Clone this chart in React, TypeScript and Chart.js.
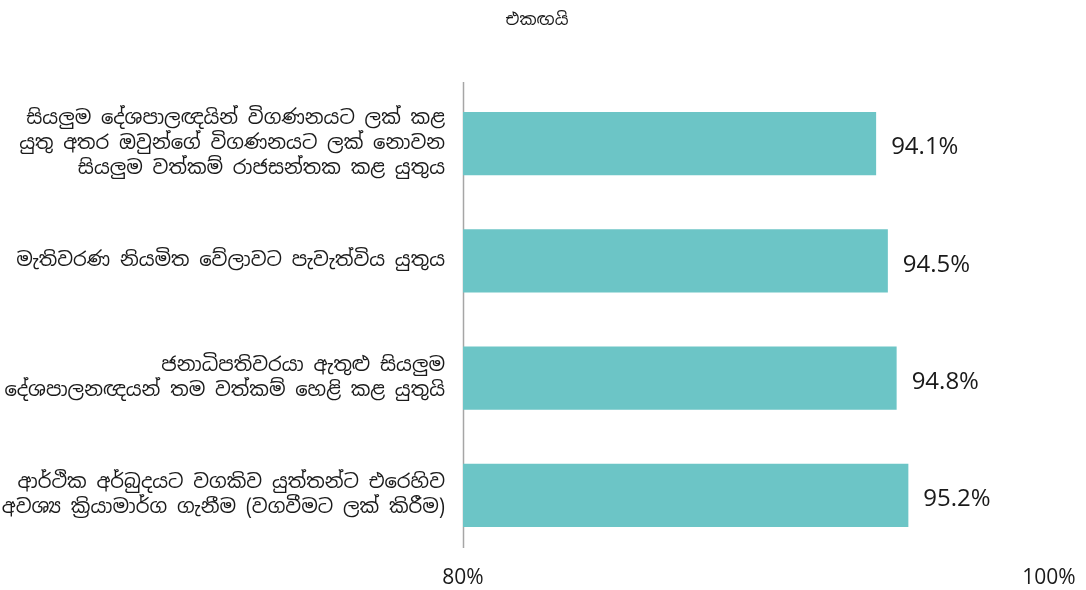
import React, { useEffect, useRef } from "react";
import { Chart, registerables } from "chart.js";

Chart.register(...registerables);

const titleText = "එකඟයි";
const categories: string[][] = [
  ["සියලුම දේශපාලඥයින් විගණනයට ලක් කළ", "යුතු අතර ඔවුන්ගේ විගණනයට ලක් නොවන", "සියලුම වත්කම් රාජසන්තක කළ යුතුය"],
  ["මැතිවරණ නියමිත වේලාවට පැවැත්විය යුතුය"],
  ["ජනාධිපතිවරයා ඇතුළු සියලුම", "දේශපාලනඥයන් තම වත්කම් හෙළි කළ යුතුයි"],
  ["ආර්ථික අර්බුදයට වගකිව යුත්තන්ට එරෙහිව", "අවශ්‍ය ක්‍රියාමාර්ග ගැනීම (වගවීමට ලක් කිරීම)"],
];
const values: number[] = [94.1, 94.5, 94.8, 95.2];
const axisMin = 80;
const axisMax = 100;

const FONT = "'Noto Sans Sinhala', 'Iskoola Pota', 'Noto Sans', 'Open Sans', sans-serif";

export default function App() {
  const ref = useRef<HTMLCanvasElement | null>(null);
  useEffect(() => {
    if (!ref.current) return;
    const valuePlugin = {
      id: "valueLabels",
      afterDatasetsDraw(chart: any) {
        const ctx = chart.ctx;
        const meta = chart.getDatasetMeta(0);
        ctx.save();
        ctx.font = "24px 'Open Sans', 'Noto Sans', sans-serif";
        ctx.fillStyle = "#1a1a1a";
        ctx.textAlign = "left";
        ctx.textBaseline = "middle";
        meta.data.forEach((el: any, i: number) => {
          ctx.fillText(values[i].toFixed(1) + "%", el.x + 15, el.y + 4);
        });
        ctx.restore();
      },
    };
    const axisLinePlugin = {
      id: "axisLine",
      beforeDatasetsDraw(chart: any) {
        const ctx = chart.ctx;
        const x = Math.round(chart.scales.x.getPixelForValue(axisMin)) + 0.5;
        ctx.save();
        ctx.strokeStyle = "#a6a6a6";
        ctx.lineWidth = 1.5;
        ctx.beginPath();
        ctx.moveTo(x, chart.chartArea.top - 3);
        ctx.lineTo(x, chart.chartArea.bottom - 6);
        ctx.stroke();
        ctx.restore();
      },
    };
    const titlePlugin = {
      id: "topTitle",
      afterDraw(chart: any) {
        const ctx = chart.ctx;
        ctx.save();
        ctx.font = "17px " + FONT;
        ctx.fillStyle = "#1a1a1a";
        ctx.textAlign = "center";
        ctx.textBaseline = "middle";
        ctx.fillText(titleText, 537, 20);
        ctx.restore();
      },
    };
    const chart = new Chart(ref.current, {
      type: "bar",
      data: {
        labels: categories,
        datasets: [
          {
            data: values,
            backgroundColor: "#6CC5C6",
            borderWidth: 0,
            barPercentage: 0.54,
            categoryPercentage: 1,
          },
        ],
      },
      options: {
        indexAxis: "y",
        animation: false,
        responsive: false,
        maintainAspectRatio: false,
        layout: { padding: { top: 85, right: 37, bottom: 0, left: 0 } },
        plugins: {
          legend: { display: false },
          title: { display: false },
          tooltip: { enabled: false },
        },
        scales: {
          x: {
            min: axisMin,
            max: axisMax,
            grid: { display: false, drawTicks: false },
            border: { display: false },
            ticks: {
              stepSize: 20,
              callback: (v: any) => v + "%",
              color: "#1a1a1a",
              font: { size: 21, family: "'Open Sans', 'Noto Sans', sans-serif" },
              padding: 11,
              maxRotation: 0,
            },
            afterFit(scale: any) {
              scale.height = 36;
              scale.paddingLeft = 0;
              scale.paddingRight = 0;
            },
          },
          y: {
            grid: { display: false, drawTicks: false },
            border: { display: false },
            ticks: {
              color: "#1a1a1a",
              font: { size: 19.5, family: FONT, lineHeight: 1.3 },
              padding: 18,
            },
            afterFit(scale: any) {
              scale.width = 463;
              scale.paddingTop = 0;
              scale.paddingBottom = 0;
            },
          },
        },
      },
      plugins: [axisLinePlugin, valuePlugin, titlePlugin],
    });
    return () => chart.destroy();
  }, []);
  return (
    <div style={{ position: "absolute", left: 0, top: 0, width: 1086, height: 590, background: "#fff" }}>
      <canvas ref={ref} width={1086} height={590} style={{ width: 1086, height: 590 }} />
    </div>
  );
}
